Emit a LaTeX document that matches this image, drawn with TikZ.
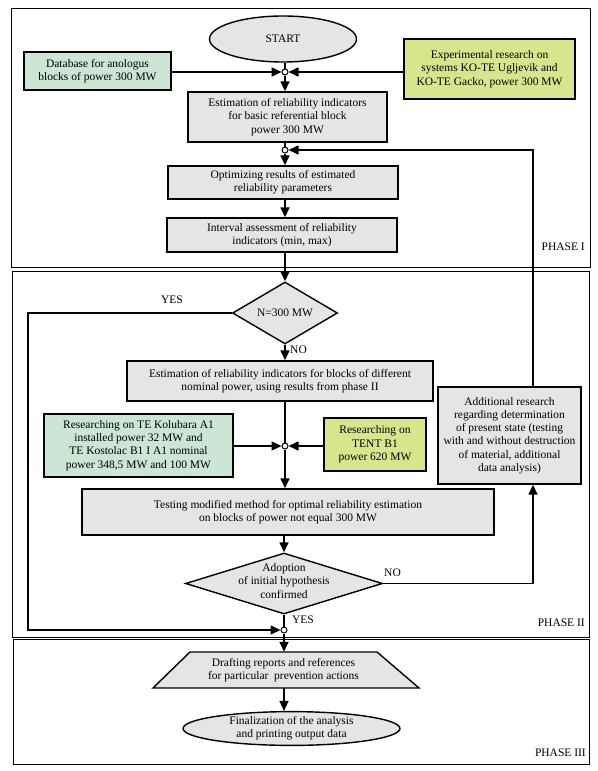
\documentclass[tikz,border=0pt]{standalone}
\usepackage{fontspec}
\setmainfont{Liberation Serif}
\usetikzlibrary{shapes.geometric,arrows.meta}
\definecolor{boxgrey}{RGB}{229,229,231}
\definecolor{boxgreen}{RGB}{204,230,214}
\definecolor{boxyellow}{RGB}{215,230,140}
\begin{document}
\begin{tikzpicture}[x=1pt,y=-1pt,
  every node/.style={font=\fontsize{11.5}{13.3}\selectfont, inner sep=0pt, align=center},
  sz/.style 2 args={minimum width=#1pt, minimum height=#2pt},
  proc/.style={draw, line width=1.4pt, fill=boxgrey},
  junc/.style={circle, draw, line width=1pt, minimum size=6pt, fill=white},
  conn/.style={line width=1.5pt},
  arr/.style={line width=1.5pt, -{Triangle[length=10pt,width=9pt]}},
  frame/.style={line width=0.8pt}
]
\useasboundingbox (0,0) rectangle (597,771);
% phase frames
\draw[frame] (11,8) rectangle (590,267);
\draw[frame] (12,271) rectangle (589,637);
\draw[frame] (13,639) rectangle (589,764);
\node[anchor=east] (ph1) at (585,247) {PHASE I};
\node[anchor=east] (ph2) at (585,623) {PHASE II};
\node[anchor=east] (ph3) at (586,753) {PHASE III};
\coordinate (fbx) at (533,0);
\coordinate (yesx) at (28,0);
% nodes
\node[proc, ellipse, sz={147}{46}] (start) at (283,39) {START};
\node[proc, fill=boxgreen, sz={147}{38}] (db) at (97.5,71) {Database for anologus\\blocks of power 300 MW};
\node[proc, fill=boxyellow, sz={171}{60}] (exp) at (489.5,69) {Experimental research on\\systems KO-TE Ugljevik and\\KO-TE Gacko, power 300 MW};
\node[junc] (j1) at (285,72) {};
\node[proc, sz={199}{50}] (est) at (287.5,117) {Estimation of reliability indicators\\for basic referential block\\power 300 MW};
\node[junc] (j2) at (285,150) {};
\node[proc, sz={230}{33}] (opt) at (283,182.5) {Optimizing results of estimated\\reliability parameters};
\node[proc, sz={230}{34}] (intv) at (282,235) {Interval assessment of reliability\\indicators (min, max)};
\node[proc, diamond, sz={105}{62}] (d1) at (285,313) {};
\node (d1t) at (d1) {N=300 MW};
\node[proc, sz={306}{40}] (est2) at (280,381) {Estimation of reliability indicators for blocks of different\\nominal power, using results from phase II};
\node[proc, fill=boxgreen, sz={189}{63}] (kol) at (138.5,445.5) {Researching on TE Kolubara A1\\installed power 32 MW and\\TE Kostolac B1 I A1 nominal\\power 348,5 MW and 100 MW};
\node[proc, fill=boxyellow, sz={102}{53}] (tent) at (375,444.5) {Researching on\\TENT B1\\power 620 MW};
\node[junc] (j3) at (285,446) {};
\node[proc, sz={143}{97}] (add) at (509.5,435.5) {Additional research\\regarding determination\\of present state (testing\\with and without destruction\\of material, additional\\data analysis)};
\node[proc, sz={412}{46}] (test) at (288,512) {Testing modified method for optimal reliability estimation\\on blocks of power not equal 300 MW};
\node[proc, diamond, sz={197}{61}] (d2) at (284,583.5) {};
\node (d2t) at (284,581) {Adoption\\of initial hypothesis\\confirmed};
\node[junc] (j4) at (284,630) {};
\draw[proc] (190,652) -- (377,652) -- (419,688) -- (153,688) -- cycle;
\node[sz={187}{36}] (draft) at (283.5,670) {Drafting reports and references\\for particular\ \ prevention actions};
\node[proc, ellipse, sz={217}{33}] (final) at (291.5,728.5) {Finalization of the analysis\\and printing output data};
% labels
\node (yes1) at (172,300) {YES};
\node[anchor=west] (no1) at (290,350) {NO};
\node (no2) at (392.5,573) {NO};
\node (yes2) at (303,620) {YES};
% connectors
\draw[conn] (start.south -| j1) -- (j1);
\draw[arr] (db.east |- j1) -- (j1);
\draw[arr] (exp.west |- j1) -- (j1);
\draw[arr] (j1) -- (est.north -| j1);
\draw[conn] (est.south -| j2) -- (j2);
\draw[arr] (j2) -- (opt.north -| j2);
\draw[arr] (opt.south -| j2) -- (intv.north -| j2);
\draw[arr] (intv.south -| j2) -- (d1.north);
\draw[arr] (d1.south) -- (est2.north -| d1);
\draw[conn] (est2.south -| j3) -- (j3);
\draw[arr] (kol.east |- j3) -- (j3);
\draw[arr] (tent.west |- j3) -- (j3);
\draw[arr] (j3) -- (test.north -| j3);
\draw[arr] (test.south -| d2) -- (d2.north);
\draw[conn] (d2.south) -- (j4);
\draw[arr] (d1.west) -- (yesx |- d1.west) |- (j4);
\draw[arr] (j4) -- (draft.north -| j4);
\draw[arr] (draft.south -| j4) -- (final.north -| j4);
\draw[arr] (d2.east) -| (fbx |- add.south);
\draw[arr] (add.north -| fbx) |- (j2);
\end{tikzpicture}
\end{document}
